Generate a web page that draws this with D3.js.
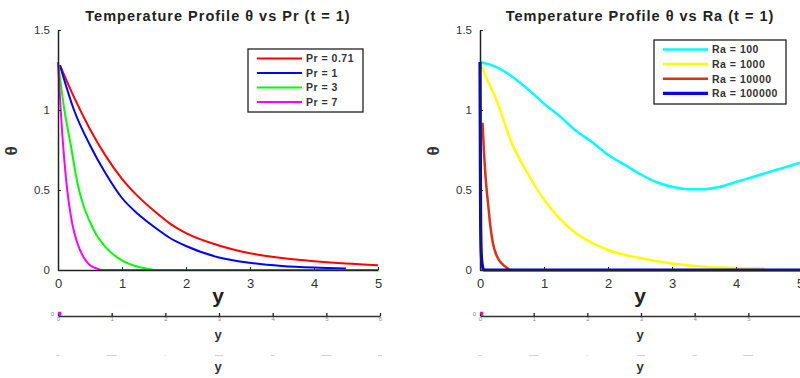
<!DOCTYPE html>
<html>
<head>
<meta charset="utf-8">
<script src="https://cdn.jsdelivr.net/npm/d3@7"></script>
<style>
  body { margin: 0; background: #fff; }
  svg { font-family: "Liberation Sans", Arial, sans-serif; }
</style>
</head>
<body>
<svg id="chart" width="800" height="378"></svg>
<script>
// ---- data: left panel (Prandtl number) ----
const prLabels = ['Pr = 0.71', 'Pr = 1', 'Pr = 3', 'Pr = 7'];
const prColors = ['#ff0000', '#0000ff', '#00ff00', '#ff00ff'];
const pr071 = [[0.03, 1.28], [0.25, 1.08], [0.5, 0.88], [0.75, 0.71], [1, 0.57], [1.25, 0.46], [1.5, 0.37],
  [1.75, 0.29], [2, 0.23], [2.5, 0.155], [3, 0.105], [3.5, 0.075], [4, 0.055], [4.5, 0.04], [5, 0.03]];
const pr1 = [[0.03, 1.28], [0.25, 1.0], [0.5, 0.78], [0.75, 0.6], [1, 0.45], [1.25, 0.35], [1.5, 0.27],
  [1.75, 0.2], [2, 0.15], [2.5, 0.08], [3, 0.045], [3.5, 0.025], [4, 0.015], [4.5, 0.01]];
const pr3 = [[0, 1.3], [0.1, 1.0], [0.2, 0.78], [0.3, 0.55], [0.4, 0.4], [0.5, 0.3], [0.6, 0.22],
  [0.75, 0.14], [1, 0.06], [1.25, 0.02], [1.5, 0]];
const pr7 = [[0, 1.3], [0.05, 0.95], [0.1, 0.68], [0.15, 0.48], [0.2, 0.34], [0.25, 0.24], [0.3, 0.17],
  [0.4, 0.08], [0.5, 0.03], [0.6, 0.01], [0.7, 0], [5, 0]];

// ---- data: right panel (Rayleigh number) ----
const raLabels = ['Ra = 100', 'Ra = 1000', 'Ra = 10000', 'Ra = 100000'];
const raColors = ['#00ffff', '#ffff00', '#dc3214', '#0000ff'];
const ra100 = [[0, 1.3], [0.25, 1.27], [0.5, 1.21], [0.75, 1.13], [1, 1.04], [1.25, 0.96], [1.5, 0.87],
  [1.75, 0.8], [2, 0.72], [2.25, 0.66], [2.5, 0.6], [2.75, 0.55], [3, 0.52], [3.25, 0.505], [3.5, 0.505],
  [3.75, 0.52], [4, 0.55], [4.25, 0.58], [4.5, 0.61], [4.75, 0.64], [5, 0.67]];
const ra1000 = [[0, 1.3], [0.1, 1.2], [0.25, 1.07], [0.5, 0.79], [0.75, 0.6], [1, 0.44], [1.25, 0.32],
  [1.5, 0.23], [1.75, 0.17], [2, 0.125], [2.5, 0.075], [3, 0.04], [3.5, 0.02], [4, 0.012], [4.45, 0.01]];
const ra10000 = [[0.04, 0.92], [0.06, 0.75], [0.08, 0.62], [0.1, 0.52], [0.13, 0.4], [0.16, 0.28],
  [0.2, 0.17], [0.25, 0.1], [0.3, 0.06], [0.4, 0.02], [0.47, 0]];
const ra100000 = [[0, 1.3], [0.005, 0.8], [0.01, 0.3], [0.02, 0.1], [0.04, 0.02], [0.06, 0], [5, 0]];

// ---- ticks ----
const xTicks = [0, 1, 2, 3, 4, 5];
const yTicks = [0, 0.5, 1, 1.5];
const subTicks = [0, 1, 2, 3, 4, 5, 6];
const ghostWidths = [3, 10, 1, 8, 4, 10, 4];

const svg = d3.select('#chart');

const panels = [
  {
    left: 58, title: 'Temperature Profile \u03b8 vs Pr (t = 1)',
    series: [pr071, pr1, pr3, pr7], colors: prColors, labels: prLabels, widths: [2, 2, 2, 2],
    legend: { x: 248, y: 49, w: 115, h: 63, rowY: 58.5, rowGap: 14.5 }, blip: '#ff00ff'
  },
  {
    left: 480, title: 'Temperature Profile \u03b8 vs Ra (t = 1)',
    series: [ra100, ra1000, ra10000, ra100000], colors: raColors, labels: raLabels, widths: [2.5, 2.5, 2.5, 3.2],
    legend: { x: 654, y: 40, w: 132, h: 64, rowY: 49.5, rowGap: 14.6 }, blip: '#e0208a'
  }
];

panels.forEach(drawPanel);

function drawPanel(p) {
  const x = d3.scaleLinear().domain([0, 5]).range([p.left, p.left + 320]);
  const y = d3.scaleLinear().domain([0, 1.5]).range([270, 30]);

  const g = svg.append('g');

  // title
  g.append('text')
    .attr('x', p.left + 160).attr('y', 21)
    .attr('text-anchor', 'middle')
    .style('font-size', '14.5px').style('font-weight', 'bold').style('fill', '#222')
    .style('letter-spacing', '1px')
    .text(p.title);

  // data lines
  const line = d3.line().x(d => x(d[0])).y(d => y(d[1])).curve(d3.curveMonotoneX);
  g.selectAll('path.data')
    .data(p.series)
    .enter()
    .append('path')
    .attr('class', 'data')
    .attr('d', line)
    .style('fill', 'none')
    .style('stroke', (d, i) => p.colors[i])
    .style('stroke-width', (d, i) => p.widths[i])
    .style('stroke-linejoin', 'round');

  // axes
  const xAxis = d3.axisBottom(x).tickValues(xTicks).tickSizeInner(-3).tickSizeOuter(0).tickPadding(9)
    .tickFormat(d3.format('d'));
  const xg = g.append('g').attr('transform', 'translate(0,270)').call(xAxis);
  const yAxis = d3.axisLeft(y).tickValues(yTicks).tickSizeInner(-3).tickSizeOuter(0).tickPadding(8)
    .tickFormat(d3.format('~g'));
  const yg = g.append('g').attr('transform', `translate(${p.left},0)`).call(yAxis);

  [xg, yg].forEach(a => {
    a.select('.domain').style('stroke', '#222').style('stroke-width', 1.5);
    a.selectAll('.tick line').style('stroke', '#222');
    a.selectAll('.tick text').style('fill', '#333').style('font-family', '"Liberation Sans", Arial, sans-serif');
  });
  xg.selectAll('.tick text').style('font-size', '13px');
  yg.selectAll('.tick text').style('font-size', '11.5px');

  // axis labels
  g.append('text')
    .attr('x', p.left + 160).attr('y', 303)
    .attr('text-anchor', 'middle')
    .style('font-size', '21px').style('font-weight', 'bold').style('fill', '#222')
    .text('y');
  g.append('text')
    .attr('transform', `translate(${p.left - 41},151) rotate(-90)`)
    .attr('text-anchor', 'middle')
    .style('font-size', '17px').style('font-weight', 'bold').style('fill', '#333')
    .text('\u03b8');

  // legend
  const L = p.legend;
  g.append('rect')
    .attr('x', L.x).attr('y', L.y).attr('width', L.w).attr('height', L.h)
    .style('fill', '#fff').style('stroke', '#222').style('stroke-width', 1.3);
  const rows = g.selectAll('g.leg')
    .data(p.labels)
    .enter()
    .append('g')
    .attr('class', 'leg')
    .attr('transform', (d, i) => `translate(${L.x + 9},${L.rowY + i * L.rowGap})`);
  rows.append('line')
    .attr('x1', 0).attr('x2', 45)
    .style('stroke', (d, i) => p.colors[i])
    .style('stroke-width', (d, i) => p.widths[i]);
  rows.append('text')
    .attr('x', 49).attr('y', 3.8)
    .style('font-size', '10.5px').style('font-weight', 'bold').style('fill', '#333')
    .style('letter-spacing', '0.5px')
    .text(d => d);

  // stray miniature axis below the plot
  const sx = d3.scaleLinear().domain([0, 6]).range([p.left, p.left + 322]);
  const sub = g.append('g').attr('transform', 'translate(0,316)');
  sub.call(d3.axisBottom(sx).tickValues(subTicks).tickSizeInner(-3).tickSizeOuter(0).tickPadding(1)
    .tickFormat(d3.format('d')));
  sub.select('.domain').style('stroke', '#333').style('stroke-width', 1.3);
  sub.selectAll('.tick line').style('stroke', '#222').style('stroke-width', 1.3);
  sub.selectAll('.tick text').style('font-size', '6px').style('fill', '#888');
  sub.append('text')
    .attr('x', p.left - 4).attr('y', 0)
    .attr('text-anchor', 'end')
    .style('font-size', '6px').style('fill', '#888')
    .text('0');
  sub.append('path')
    .datum([[0, 0.6], [0.04, 0.6], [0.04, 0]])
    .attr('d', d3.line().x(d => sx(d[0])).y(d => -d[1] * 5))
    .style('fill', 'none').style('stroke', p.blip).style('stroke-width', 2.5);
  g.append('text')
    .attr('x', p.left + 160).attr('y', 339)
    .attr('text-anchor', 'middle')
    .style('font-size', '13px').style('font-weight', 'bold').style('fill', '#333')
    .text('y');

  // faint ghost row
  g.selectAll('rect.ghost')
    .data(subTicks)
    .enter()
    .append('rect')
    .attr('class', 'ghost')
    .attr('x', (d, i) => sx(d) - ghostWidths[i] / 2)
    .attr('y', 355)
    .attr('width', (d, i) => ghostWidths[i])
    .attr('height', 1)
    .style('fill', '#d0d0d0');
  g.append('text')
    .attr('x', p.left + 160).attr('y', 371)
    .attr('text-anchor', 'middle')
    .style('font-size', '13px').style('font-weight', 'bold').style('fill', '#333')
    .text('y');
}
</script>
</body>
</html>
